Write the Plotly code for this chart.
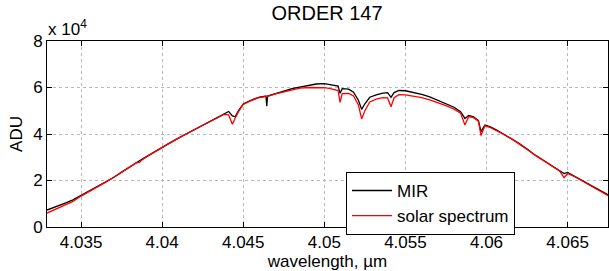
import plotly.graph_objects as go

# wavelength grid (um)
wl = [4.0329, 4.0333, 4.0337, 4.0341, 4.0345, 4.0350, 4.0355, 4.0360, 4.0365, 4.0370,
      4.0375, 4.0380, 4.0384, 4.0386, 4.0388, 4.0392, 4.0396, 4.0400, 4.0405, 4.0410,
      4.0415, 4.0420, 4.0425, 4.0430, 4.0434, 4.0438, 4.0441, 4.04433, 4.0445, 4.0447,
      4.0450, 4.0455, 4.0460, 4.04640, 4.04645, 4.04650, 4.0470, 4.0475, 4.0480, 4.0485,
      4.0490, 4.0495, 4.0500, 4.0503, 4.0506, 4.05085, 4.05097, 4.0511, 4.0515, 4.0518,
      4.0521, 4.0523, 4.0525, 4.0528, 4.0532, 4.0536, 4.0539, 4.05411, 4.0543, 4.0546,
      4.0550, 4.0555, 4.0560, 4.0565, 4.0570, 4.0575, 4.0580, 4.0584, 4.05867, 4.0589,
      4.0592, 4.0595, 4.05966, 4.0599, 4.0602, 4.0606, 4.0610, 4.0615, 4.0620, 4.0625,
      4.0630, 4.0635, 4.0640, 4.0645, 4.06478, 4.0650, 4.0655, 4.0660, 4.0665, 4.0670,
      4.0675]

# MIR measured spectrum (ADU)
mir = [7300, 8300, 9400, 10500, 11700, 13600, 15300, 17200, 19200, 21300,
       23600, 26000, 27700, 28500, 29300, 31000, 32700, 34300, 36300, 38200,
       40100, 42000, 43900, 45700, 47100, 48800, 49700, 47800, 47400, 50000,
       52900, 54600, 55900, 56300, 52000, 56300, 57500, 58400, 59500, 60200,
       60900, 61500, 61700, 61400, 61000, 60600, 57500, 59500, 59300, 58000,
       54500, 50600, 53000, 55800, 56800, 57600, 57800, 55800, 57800, 58700,
       58600, 57900, 57000, 56000, 54500, 53000, 51500, 49600, 46700, 48000,
       47400, 45800, 41000, 43900, 43200, 41800, 40200, 38300, 36000, 33500,
       30900, 28700, 26500, 24300, 23000, 23500, 21600, 19500, 17700, 15800,
       13800]

# solar spectrum (ADU)
solar = [6000, 7200, 8400, 9600, 11000, 13300, 15200, 17200, 19200, 21300,
         23600, 26000, 27600, 27800, 29100, 30900, 32600, 34300, 36300, 38200,
         40100, 42000, 43800, 45500, 46900, 48400, 48200, 44200, 46800, 49500,
         52700, 54400, 55700, 56200, 56200, 56200, 57300, 58200, 59100, 59700,
         60000, 60000, 59900, 59600, 59100, 58700, 53600, 57400, 57500, 56400,
         52500, 46500, 50000, 53800, 55000, 55600, 55500, 51700, 55600, 56900,
         56800, 56300, 55600, 54700, 53500, 52200, 50700, 49000, 43900, 47500,
         47000, 45500, 39300, 43500, 42900, 41600, 40000, 38100, 35900, 33400,
         30900, 28700, 26400, 24100, 21200, 23000, 21400, 19400, 17600, 15600,
         13500]

x_ticks = [4.035, 4.04, 4.045, 4.05, 4.055, 4.06, 4.065]
x_tick_labels = ["4.035", "4.04", "4.045", "4.05", "4.055", "4.06", "4.065"]
y_ticks = [0, 20000, 40000, 60000, 80000]
y_tick_labels = ["0", "2", "4", "6", "8"]

FONT = "Liberation Sans, Arial, Helvetica, sans-serif"

fig = go.Figure()
fig.add_trace(go.Scatter(x=wl, y=mir, mode="lines", name="MIR",
                         line=dict(color="black", width=1.3)))
fig.add_trace(go.Scatter(x=wl, y=solar, mode="lines", name="solar spectrum",
                         line=dict(color="#ff0000", width=1.3)))

axis_common = dict(showline=True, linecolor="black", linewidth=1, mirror="ticks",
                   ticks="inside", ticklen=5, tickcolor="black",
                   showgrid=True, gridcolor="#b8b8b8", griddash="dot", gridwidth=1,
                   zeroline=False, tickfont=dict(size=17, color="black", family=FONT))

fig.update_xaxes(range=[4.0329, 4.06749], tickvals=x_ticks, ticktext=x_tick_labels,
                 title=dict(text="wavelength, µm", font=dict(size=17, color="black", family=FONT),
                            standoff=0),
                 **axis_common)
fig.update_yaxes(range=[0, 80000], tickvals=y_ticks, ticktext=y_tick_labels,
                 title=dict(text="ADU", font=dict(size=17, color="black", family=FONT),
                            standoff=6),
                 **axis_common)

fig.update_layout(
    width=609, height=271,
    margin=dict(l=47, r=1, t=41, b=44),
    paper_bgcolor="white", plot_bgcolor="white",
    title=dict(text="ORDER 147", x=0.537, xanchor="center", y=0.952, yanchor="middle",
               font=dict(size=20, color="black", family=FONT)),
    showlegend=True,
    legend=dict(x=0.533, y=0.296, xanchor="left", yanchor="top",
                bgcolor="white", bordercolor="black", borderwidth=1,
                font=dict(size=17, color="black", family=FONT),
                itemwidth=40, tracegroupgap=0),
    annotations=[dict(text="x 10<sup>4</sup>", xref="paper", yref="paper", x=-0.002, y=1.0,
                      xanchor="left", yanchor="bottom", showarrow=False,
                      font=dict(size=17, color="black", family=FONT))],
)

fig.write_html("out.html", config={"displayModeBar": False},
               post_script="document.body.style.margin='0';document.body.style.overflow='hidden';")
